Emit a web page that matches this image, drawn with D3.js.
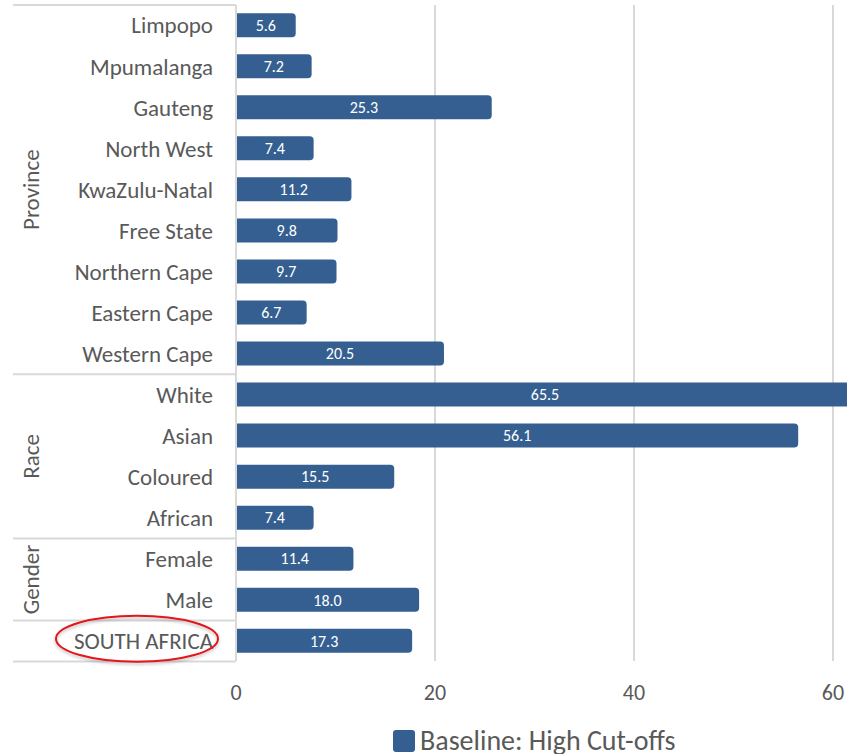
<!DOCTYPE html>
<html>
<head>
<meta charset="utf-8">
<script src="https://cdn.jsdelivr.net/npm/d3@7/dist/d3.min.js"></script>
<style>
  html, body { margin: 0; padding: 0; background: #ffffff; }
  svg { display: block; }
  text { font-family: Carlito, Lato, "Open Sans", sans-serif; }
</style>
</head>
<body>
<svg id="chart" width="847" height="754"></svg>
<script>
// Share of population above the high cut-off, by subgroup
const categories = [
  "Limpopo", "Mpumalanga", "Gauteng", "North West", "KwaZulu-Natal",
  "Free State", "Northern Cape", "Eastern Cape", "Western Cape",
  "White", "Asian", "Coloured", "African",
  "Female", "Male",
  "SOUTH AFRICA"
];
const values = [5.6, 7.2, 25.3, 7.4, 11.2, 9.8, 9.7, 6.7, 20.5, 65.5, 56.1, 15.5, 7.4, 11.4, 18.0, 17.3];
const groupNames = ["Province", "Race", "Gender", ""];
const groupSizes = [9, 4, 2, 1];
const xTicks = [0, 20, 40, 60];
const seriesName = "Baseline: High Cut-offs";

const barColor = "#365f91";
const textColor = "#595959";
const lineColor = "#d9d9d9";

const svg = d3.select("#chart");

const plotLeft = 236, plotTop = 5, plotBottom = 661;
const plotRight = 854; // plot area extends past the visible edge

const x = d3.scaleLinear().domain([0, 60]).range([plotLeft, 833]);
const y = d3.scaleBand().domain(categories).range([plotTop, plotBottom]).paddingInner(0.415).paddingOuter(0.2);

const defs = svg.append("defs");
const shadow = defs.append("filter").attr("id", "soft-shadow")
  .attr("x", "-10%").attr("y", "-20%").attr("width", "120%").attr("height", "150%");
shadow.append("feDropShadow").attr("dx", 0).attr("dy", 2).attr("stdDeviation", 1.5)
  .attr("flood-color", "#000").attr("flood-opacity", 0.25);

// vertical gridlines
svg.append("g")
  .selectAll("line")
  .data(xTicks.slice(1))
  .join("line")
  .attr("x1", d => x(d)).attr("x2", d => x(d))
  .attr("y1", plotTop).attr("y2", plotBottom)
  .attr("stroke", lineColor).attr("stroke-width", 2);

// bars with a rounded cap at the value end
const cap = 4;
function barPath(x0, x1, y0, h) {
  const xe = x1 + cap;
  return `M${x0},${y0}H${xe - cap}Q${xe},${y0} ${xe},${y0 + cap}V${y0 + h - cap}Q${xe},${y0 + h} ${xe - cap},${y0 + h}H${x0}Z`;
}
const rows = categories.map((c, i) => ({ c, v: values[i] }));

svg.append("g")
  .selectAll("path")
  .data(rows)
  .join("path")
  .attr("d", d => barPath(x(0) + 1, x(d.v), y(d.c), y.bandwidth()))
  .attr("fill", barColor);

// value labels centred on the visible part of each bar
svg.append("g")
  .selectAll("text")
  .data(rows)
  .join("text")
  .attr("x", d => (x(0) + Math.min(x(d.v) + cap, plotRight)) / 2)
  .attr("y", d => y(d.c) + y.bandwidth() / 2)
  .attr("dy", "0.36em")
  .attr("text-anchor", "middle")
  .attr("fill", "#ffffff")
  .attr("font-size", 16)
  .text(d => d.v.toFixed(1));

// category axis line
svg.append("line")
  .attr("x1", plotLeft).attr("x2", plotLeft)
  .attr("y1", plotTop).attr("y2", plotBottom)
  .attr("stroke", lineColor).attr("stroke-width", 2);

// category labels
svg.append("g")
  .selectAll("text")
  .data(categories)
  .join("text")
  .attr("x", 213)
  .attr("y", d => y(d) + y.bandwidth() / 2)
  .attr("dy", "0.36em")
  .attr("text-anchor", "end")
  .attr("fill", textColor)
  .attr("font-size", 23)
  .text(d => d);

// group separators and rotated group labels
const step = y.step();
let start = 0;
const bounds = [plotTop];
groupSizes.forEach(n => {
  start += n;
  bounds.push(plotTop + start * step);
});
svg.append("g")
  .selectAll("line")
  .data(bounds)
  .join("line")
  .attr("x1", 13).attr("x2", plotLeft)
  .attr("y1", d => d).attr("y2", d => d)
  .attr("stroke", lineColor).attr("stroke-width", 2);

svg.append("g")
  .selectAll("text")
  .data(groupNames.map((g, i) => ({ g, mid: (bounds[i] + bounds[i + 1]) / 2 })))
  .join("text")
  .attr("transform", d => `translate(31,${d.mid}) rotate(-90)`)
  .attr("dy", "0.36em")
  .attr("text-anchor", "middle")
  .attr("fill", textColor)
  .attr("font-size", 23)
  .text(d => d.g);

// value axis tick labels
svg.append("g")
  .selectAll("text")
  .data(xTicks)
  .join("text")
  .attr("x", d => x(d))
  .attr("y", 692)
  .attr("dy", "0.36em")
  .attr("text-anchor", "middle")
  .attr("fill", textColor)
  .attr("font-size", 22)
  .text(d => d);

// highlight around the national total
const sa = categories[categories.length - 1];
svg.append("ellipse")
  .attr("cx", 137).attr("cy", y(sa) + y.bandwidth() / 2 - 2)
  .attr("rx", 81).attr("ry", 23)
  .attr("fill", "none")
  .attr("stroke", "#e3161b").attr("stroke-width", 2)
  .attr("filter", "url(#soft-shadow)");

// legend
const lg = svg.append("g").attr("transform", "translate(393,730)");
lg.append("rect").attr("x", 0).attr("y", 0).attr("width", 22).attr("height", 22).attr("rx", 3)
  .attr("fill", barColor);
lg.append("text").attr("x", 27).attr("y", 20)
  .attr("fill", textColor).attr("font-size", 28).text(seriesName);
</script>
</body>
</html>
